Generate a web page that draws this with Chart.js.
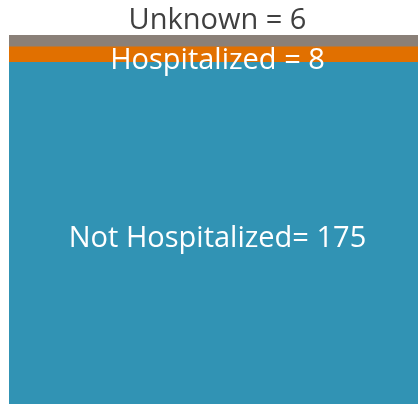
<!DOCTYPE html>
<html lang="en">
<head>
<meta charset="UTF-8">
<title>Hospitalization status</title>
<script src="https://cdn.jsdelivr.net/npm/chart.js"></script>
<style>
  html, body { margin: 0; padding: 0; background: #fff; }
  #wrap { width: 418px; height: 404px; }
</style>
</head>
<body>
<div id="wrap"><canvas id="hospChart" width="418" height="404"></canvas></div>
<script>
const categories = ["Cases"];
const seriesNames = ["Not Hospitalized", "Hospitalized", "Unknown"];
const seriesValues = [175, 8, 6];
const seriesLabels = ["Not Hospitalized= 175", "Hospitalized = 8", "Unknown = 6"];
const seriesColors = ["#3193b4", "#e17000", "#8a8078"];

const total = seriesValues.reduce((a, b) => a + b, 0);

// draws the text for each band
const bandLabels = {
  id: "bandLabels",
  afterDatasetsDraw(chart) {
    const c = chart.ctx;
    c.save();
    c.font = "29px 'Open Sans'";
    c.textAlign = "center";
    c.textBaseline = "middle";
    chart.data.datasets.forEach((ds, i) => {
      const bar = chart.getDatasetMeta(i).data[0];
      const x = chart.chartArea.left + (chart.chartArea.right - chart.chartArea.left) / 2 + 4;
      let y, color;
      if (i === 2) {
        y = bar.y - 14;
        color = "#404040";
      } else {
        y = (bar.y + bar.base) / 2 + 6;
        color = "#ffffff";
      }
      c.fillStyle = color;
      c.fillText(seriesLabels[i], x, y);
    });
    c.restore();
  }
};

new Chart(document.getElementById("hospChart"), {
  type: "bar",
  data: {
    labels: categories,
    datasets: seriesNames.map((name, i) => ({
      label: name,
      data: [seriesValues[i]],
      backgroundColor: seriesColors[i],
      borderWidth: 0,
      barPercentage: 1,
      categoryPercentage: 1
    }))
  },
  options: {
    responsive: false,
    animation: false,
    layout: { padding: { left: 9, top: 35, right: 0, bottom: 0 } },
    plugins: { legend: { display: false }, tooltip: { enabled: false } },
    scales: {
      x: { stacked: true, display: false },
      y: { stacked: true, display: false, min: 0, max: total }
    }
  },
  plugins: [bandLabels]
});
</script>
</body>
</html>
